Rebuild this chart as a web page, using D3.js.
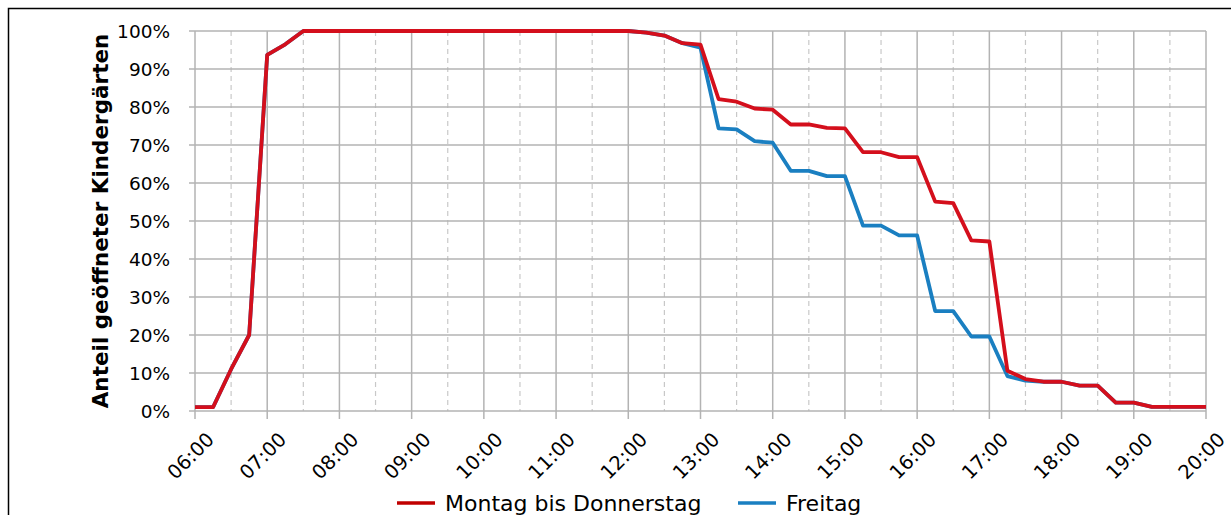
<!DOCTYPE html>
<html lang="de">
<head>
<meta charset="utf-8">
<title>Anteil geöffneter Kindergärten</title>
<script src="https://cdn.jsdelivr.net/npm/d3@7"></script>
<style>
    body {
        margin: 0;
        background: #fff;
    }
    text {
        font-family: "DejaVu Sans", sans-serif;
        fill: #000;
    }
    .grid line {
        stroke: #b3b3b3;
        stroke-width: 1.5;
    }
    .half line {
        stroke: #c8c8c8;
        stroke-width: 1.2;
        stroke-dasharray: 5 4;
    }
    .domain {
        display: none;
    }
</style>
</head>
<body>
<div id="chart"></div>
<script>

    // Uhrzeiten (Viertelstunden)
    const times = [
        "06:00", "06:15", "06:30", "06:45",
        "07:00", "07:15", "07:30", "07:45",
        "08:00", "08:15", "08:30", "08:45",
        "09:00", "09:15", "09:30", "09:45",
        "10:00", "10:15", "10:30", "10:45",
        "11:00", "11:15", "11:30", "11:45",
        "12:00", "12:15", "12:30", "12:45",
        "13:00", "13:15", "13:30", "13:45",
        "14:00", "14:15", "14:30", "14:45",
        "15:00", "15:15", "15:30", "15:45",
        "16:00", "16:15", "16:30", "16:45",
        "17:00", "17:15", "17:30", "17:45",
        "18:00", "18:15", "18:30", "18:45",
        "19:00", "19:15", "19:30", "19:45",
        "20:00"
    ]

    // Montag bis Donnerstag (%)
    const monThu = [
        1, 1, 11, 20,
        93.7, 96.5, 100, 100,
        100, 100, 100, 100,
        100, 100, 100, 100,
        100, 100, 100, 100,
        100, 100, 100, 100,
        100, 99.6, 98.8, 96.8,
        96.4, 82.1, 81.4, 79.6,
        79.3, 75.4, 75.4, 74.5,
        74.4, 68.1, 68.1, 66.8,
        66.8, 55.1, 54.7, 44.9,
        44.6, 10.6, 8.4, 7.7,
        7.7, 6.7, 6.7, 2.2,
        2.2, 1.1, 1.1, 1.1,
        1.1
    ]

    // Freitag (%)
    const friday = [
        1, 1, 11, 20,
        93.7, 96.5, 100, 100,
        100, 100, 100, 100,
        100, 100, 100, 100,
        100, 100, 100, 100,
        100, 100, 100, 100,
        100, 99.6, 98.8, 96.8,
        95.6, 74.4, 74.1, 71.0,
        70.6, 63.2, 63.2, 61.8,
        61.8, 48.8, 48.8, 46.2,
        46.2, 26.3, 26.3, 19.6,
        19.6, 9.2, 8.0, 7.7,
        7.7, 6.7, 6.7, 2.2,
        2.2, 1.1, 1.1, 1.1,
        1.1
    ]

    const yTicks = [0, 10, 20, 30, 40, 50, 60, 70, 80, 90, 100]

    const width = 1231
    const height = 515
    const margin = { top: 31, right: 25, bottom: 104, left: 195 }

    const red = "#d40f1c"
    const blue = "#1a7fc1"

    const svg = d3.select("#chart").append("svg")
        .attr("width", width)
        .attr("height", height)

    // Rahmen
    svg.append("rect")
        .attr("x", 8.5)
        .attr("y", 8.5)
        .attr("width", width + 20)
        .attr("height", height + 20)
        .attr("fill", "none")
        .attr("stroke", "#000")
        .attr("stroke-width", 1.5)

    const x = d3.scalePoint()
        .domain(times)
        .range([margin.left, width - margin.right])

    const y = d3.scaleLinear()
        .domain([0, 100])
        .range([height - margin.bottom, margin.top])

    const hours = times.filter(t => t.endsWith(":00"))
    const halves = times.filter(t => t.endsWith(":30"))

    // gestrichelte Halbstunden-Linien
    svg.append("g")
        .attr("class", "half")
        .selectAll("line")
        .data(halves)
        .join("line")
        .attr("x1", d => x(d))
        .attr("x2", d => x(d))
        .attr("y1", y(100))
        .attr("y2", y(0))

    // horizontale Gitterlinien
    svg.append("g")
        .attr("class", "grid")
        .selectAll("line")
        .data(yTicks)
        .join("line")
        .attr("x1", x.range()[0] - 6)
        .attr("x2", x.range()[1])
        .attr("y1", d => y(d))
        .attr("y2", d => y(d))

    // vertikale Stunden-Linien
    svg.append("g")
        .attr("class", "grid")
        .selectAll("line")
        .data(hours)
        .join("line")
        .attr("x1", d => x(d))
        .attr("x2", d => x(d))
        .attr("y1", y(100))
        .attr("y2", y(0) + 8)

    // y-Achse
    svg.append("g")
        .attr("transform", "translate(" + (margin.left - 22) + ",0)")
        .call(d3.axisLeft(y).tickValues(yTicks).tickSize(0).tickFormat(d => d + "%"))
        .call(g => g.selectAll("text")
            .attr("font-size", 18.5)
            .attr("dy", "0.36em"))

    // x-Achse
    svg.append("g")
        .attr("transform", "translate(0," + (y(0) + 18) + ")")
        .call(d3.axisBottom(x).tickValues(hours).tickSize(0))
        .call(g => g.selectAll("text")
            .attr("font-size", 19.5)
            .attr("text-anchor", "end")
            .attr("dy", "0.7em")
            .attr("transform", "translate(8,0) rotate(-45)"))

    // Achsentitel
    svg.append("text")
        .attr("transform", "translate(108," + ((y(0) + y(100)) / 2) + ") rotate(-90)")
        .attr("text-anchor", "middle")
        .attr("font-size", 21.5)
        .attr("font-weight", "bold")
        .text("Anteil geöffneter Kindergärten")

    const line = d3.line()
        .x((d, i) => x(times[i]))
        .y(d => y(d))

    svg.append("path")
        .datum(friday)
        .attr("fill", "none")
        .attr("stroke", blue)
        .attr("stroke-width", 3.8)
        .attr("stroke-linejoin", "round")
        .attr("d", line)

    svg.append("path")
        .datum(monThu)
        .attr("fill", "none")
        .attr("stroke", red)
        .attr("stroke-width", 3.8)
        .attr("stroke-linejoin", "round")
        .attr("d", line)

    // Legende
    const legendItems = [
        { name: "Montag bis Donnerstag", color: "#c00000", x: 397 },
        { name: "Freitag", color: blue, x: 738 }
    ]

    const legend = svg.append("g")
        .selectAll("g")
        .data(legendItems)
        .join("g")
        .attr("transform", d => "translate(" + d.x + ",503)")

    legend.append("line")
        .attr("x1", 0)
        .attr("x2", 38)
        .attr("stroke", d => d.color)
        .attr("stroke-width", 3.5)

    legend.append("text")
        .attr("x", 48)
        .attr("dy", "0.36em")
        .attr("font-size", 22)
        .text(d => d.name)

</script>
</body>
</html>
